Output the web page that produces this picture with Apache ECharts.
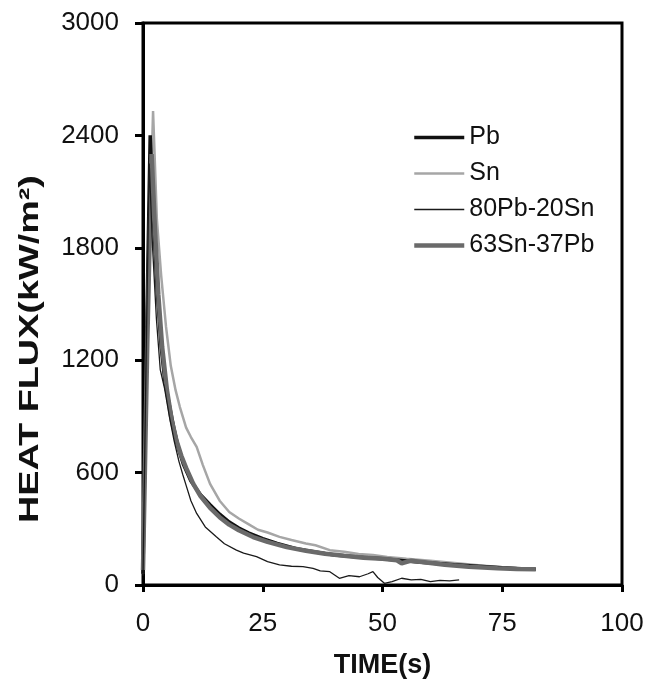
<!DOCTYPE html>
<html>
<head>
<meta charset="utf-8">
<script src="https://cdn.jsdelivr.net/npm/echarts@6/dist/echarts.min.js"></script>
<style>html,body{margin:0;padding:0;background:#fff;}#c{width:648px;height:683px;}</style>
</head>
<body>
<div id="c"></div>
<script>
// ---- data ----
const seriesNames = ['Pb', 'Sn', '80Pb-20Sn', '63Sn-37Pb'];
const xTicks = [0, 25, 50, 75, 100];
const yTicks = [0, 600, 1200, 1800, 2400, 3000];

const pbTime = [0,0.8,1.5,2.2,3,3.8,4.6,5.5,6.5,7.5,8.5,10,12,14,16,18,20,22,25,28,32,36,40,45,50,55,60,65,70,75,80,82];
const pbFlux = [60,1400,2400,1950,1560,1270,1080,960,830,720,640,555,482,428,378,336,304,278,248,222,194,176,160,149,140,128,118,108,100,92,86,84];

const snTime = [0,1,2.1,2.9,3.8,4.8,5.8,6.8,7.7,9,10,11.2,12.5,14,16,18,20,22,24,26,28.5,31,34,36,39,42,45,48,51,55,60,65,70,75,80];
const snFlux = [60,1500,2530,1950,1650,1380,1170,1040,950,840,790,737,640,540,450,390,355,325,295,280,257,240,222,212,186,178,165,160,150,140,130,118,105,95,86];

const pb80Time = [0,0.7,1.3,2,2.8,3.6,4.5,5.5,6.5,7.5,8.3,9.1,10,11.2,13,15.3,17,19.5,21,23.7,26,28.5,31,33.4,35.5,37,39,41,43,45.2,47,48,49,50.4,52,54,56,58,60,62,64,66];
const pb80Flux = [50,1300,2250,1800,1420,1150,1050,900,770,660,590,524,450,382,310,257,220,186,170,151,125,107,100,98,89,75,71,36,50,44,60,71,40,9,18,36,27,30,18,25,22,27];

const sn63Time = [0,0.9,1.8,2.5,3.2,4,5,6,7,8,9,10.5,12,14,16,18,20,23,26,30,34,38,42,46,50,53,54,56,60,63,68,74,78,82];
const sn63Flux = [80,1300,2300,1900,1550,1270,1040,880,770,690,625,540,475,412,362,322,292,256,230,202,183,167,156,146,140,132,116,130,118,108,98,89,86,84];

function pairs(t, v) { return t.map((x, i) => [x, v[i]]); }

const font = '"Liberation Sans", Arial, sans-serif';
const colors = ['#111111', '#a6a6a6', '#1a1a1a', '#6a6a6a'];
const widths = [3.5, 2.5, 1.3, 4.5];
const chart = echarts.init(document.getElementById('c'), null, {renderer: 'canvas'});

chart.setOption({
  animation: false,
  backgroundColor: '#fff',
  grid: {left: 143, right: 26, top: 23, bottom: 98, containLabel: false, outerBoundsMode: 'none',
         show: true, borderColor: '#000', borderWidth: 3, backgroundColor: 'transparent'},
  legend: {
    orient: 'vertical', left: 407, top: 120, itemWidth: 50, itemHeight: 14, itemGap: 11,
    textStyle: {fontFamily: font, fontSize: 25, color: '#111'},
    itemStyle: {opacity: 0},
    data: seriesNames.map((n, i) => ({name: n, lineStyle: {width: widths[i], color: colors[i]}}))
  },
  xAxis: {
    type: 'value', min: xTicks[0], max: xTicks[xTicks.length - 1], interval: 25,
    splitLine: {show: false},
    axisLine: {lineStyle: {color: '#000', width: 3}},
    axisTick: {show: true, inside: false, length: 7, lineStyle: {color: '#000', width: 3}},
    axisLabel: {fontFamily: font, fontSize: 26, color: '#111', margin: 26, formatter: v => String(v)},
    name: 'TIME(s)', nameLocation: 'middle', nameGap: 67,
    nameTextStyle: {fontFamily: font, fontSize: 27, fontWeight: 'bold', color: '#111'}
  },
  yAxis: {
    type: 'value', min: yTicks[0], max: yTicks[yTicks.length - 1], interval: 600,
    splitLine: {show: false},
    axisLine: {lineStyle: {color: '#000', width: 3}},
    axisTick: {show: true, inside: false, length: 8, lineStyle: {color: '#000', width: 3}},
    axisLabel: {fontFamily: font, fontSize: 26, color: '#111', margin: 24, formatter: v => String(v)}
  },
  graphic: [{
    type: 'text', x: 30, y: 349, rotation: Math.PI / 2, scaleX: 1.35,
    style: {text: 'HEAT FLUX(kW/m²)', fontFamily: font, fontSize: 28, fontWeight: 'bold', fill: '#111', align: 'center', verticalAlign: 'middle'}
  }],
  series: [
    {name: seriesNames[0], type: 'line', data: pairs(pbTime, pbFlux), showSymbol: false, symbol: 'none', z: 3,
     lineStyle: {color: colors[0], width: widths[0]}, itemStyle: {color: colors[0]}},
    {name: seriesNames[1], type: 'line', data: pairs(snTime, snFlux), showSymbol: false, symbol: 'none', z: 2,
     lineStyle: {color: colors[1], width: widths[1]}, itemStyle: {color: colors[1]}},
    {name: seriesNames[2], type: 'line', data: pairs(pb80Time, pb80Flux), showSymbol: false, symbol: 'none', z: 5,
     lineStyle: {color: colors[2], width: widths[2]}, itemStyle: {color: colors[2]}},
    {name: seriesNames[3], type: 'line', data: pairs(sn63Time, sn63Flux), showSymbol: false, symbol: 'none', z: 4,
     lineStyle: {color: colors[3], width: widths[3]}, itemStyle: {color: colors[3]}}
  ]
});
</script>
</body>
</html>
